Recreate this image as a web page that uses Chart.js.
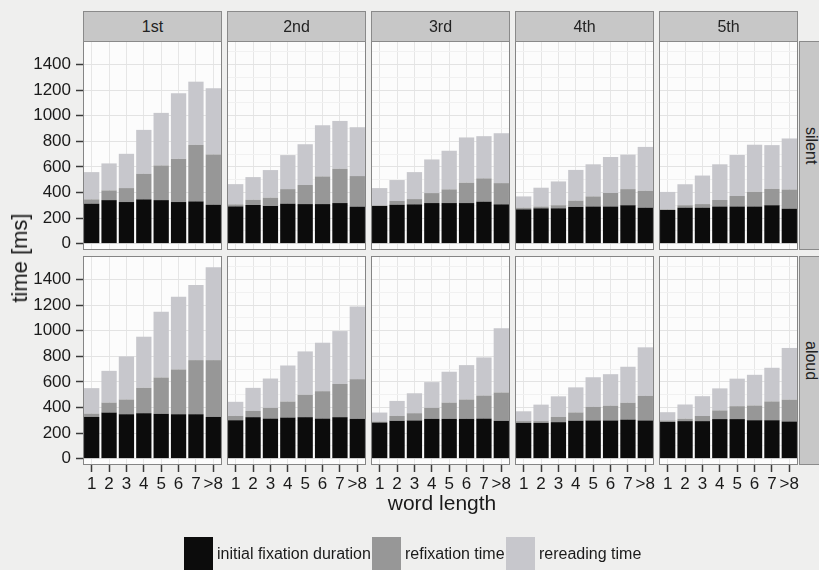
<!DOCTYPE html>
<html><head><meta charset="utf-8">
<script src="https://cdn.jsdelivr.net/npm/chart.js@4/dist/chart.umd.min.js"></script>
<style>
html,body{margin:0;padding:0}
body{width:819px;height:570px;background:#efefee;position:relative;overflow:hidden;font-family:"Liberation Sans",Arial,sans-serif;color:#1a1a1a}
.strip{position:absolute;background:#c7c7c7;border:1px solid #8a8a8a;box-sizing:border-box;display:flex;align-items:center;justify-content:center;font-size:16px;color:#222}
.vstrip{writing-mode:vertical-rl}
.bg{position:absolute;background:#fcfcfc}
.frame{position:absolute;border:1px solid #858585;box-sizing:border-box;pointer-events:none}
canvas{position:absolute}
.txt{position:absolute;white-space:nowrap}
.sw{position:absolute}
</style></head><body>
<script>
// ---- data ----
const wordLengths = ["1","2","3","4","5","6","7",">8"];
const positions = ["1st","2nd","3rd","4th","5th"];
const modes = ["silent","aloud"];
const seriesNames = ["initial fixation duration","refixation time","rereading time"];
const yTickValues = [0,200,400,600,800,1000,1200,1400];

// segment heights in ms, one row per position (1st..5th)
const silentInitial = [
  [312,340,325,346,340,325,330,304],
  [291,302,294,312,309,309,317,289],
  [294,304,307,317,317,317,328,307],
  [268,276,276,287,290,290,300,281],
  [263,281,281,290,290,290,300,273]];
const silentRefixation = [
  [34,76,109,200,271,338,442,393],
  [16,41,65,114,149,216,268,239],
  [5,29,41,78,107,159,182,166],
  [13,14,24,49,79,106,126,132],
  [5,19,28,51,82,114,128,150]];
const silentRereading = [
  [213,211,268,343,411,512,494,517],
  [158,177,216,266,319,401,374,382],
  [135,164,211,263,302,354,330,390],
  [88,147,186,240,251,281,270,343],
  [136,164,223,279,321,369,342,399]];
const aloudInitial = [
  [326,360,347,355,350,347,347,326],
  [300,324,313,321,324,313,324,311],
  [282,295,298,311,311,311,313,295],
  [279,279,285,296,298,298,305,298],
  [287,293,293,309,309,300,300,290]];
const aloudRefixation = [
  [26,78,115,198,284,350,423,444],
  [34,49,84,125,175,214,260,310],
  [8,39,57,86,127,151,180,222],
  [14,14,41,65,107,116,132,193],
  [11,19,40,68,101,115,147,171]];
const aloudRereading = [
  [199,248,337,400,514,569,587,726],
  [110,180,229,282,339,379,413,569],
  [70,117,156,201,241,269,298,502],
  [77,129,161,196,231,246,281,379],
  [65,111,155,172,215,240,263,404]];

const dataByMode = {
  silent: [silentInitial, silentRefixation, silentRereading],
  aloud: [aloudInitial, aloudRefixation, aloudRereading]
};
const colors = ["#0c0c0c","#979797","#c7c7cc"];

// ---- layout ----
const FONT = "'Liberation Sans', Arial, sans-serif";
Chart.defaults.font.family = FONT;
const PX = [83,227,371,515,659], PW = 139;
const PY = [41,256], PH = 209;
const YMIN = -50, YMAX = 1584;
const AXW = 70, XAH = 32, PAD = 12, PADV = 22;

function el(cls, css, text){
  const d = document.createElement('div');
  d.className = cls;
  Object.assign(d.style, css);
  if (text !== undefined) d.textContent = text;
  document.body.appendChild(d);
  return d;
}

// panel backgrounds
modes.forEach((m,r)=>positions.forEach((p,c)=>{
  el('bg',{left:PX[c]+'px',top:PY[r]+'px',width:PW+'px',height:PH+'px'});
}));

// charts
modes.forEach((mode, r) => {
  positions.forEach((pos, c) => {
    const isLeft = c === 0, isBottom = r === 1;
    const cx = PX[c] - PAD - (isLeft ? AXW : 0);
    const cy = PY[r] - PADV;
    const cw = PAD + (isLeft ? AXW : 0) + PW + PAD;
    const ch = PADV + PH + (isBottom ? XAH : PADV);
    const canvas = document.createElement('canvas');
    canvas.width = cw; canvas.height = ch;
    canvas.style.left = cx + 'px'; canvas.style.top = cy + 'px';
    canvas.style.width = cw + 'px'; canvas.style.height = ch + 'px';
    document.body.appendChild(canvas);
    const datasets = seriesNames.map((name, s) => ({
      label: name,
      data: dataByMode[mode][s][c],
      backgroundColor: colors[s],
      borderWidth: 0,
      barPercentage: 0.88,
      categoryPercentage: 1.0
    }));
    new Chart(canvas, {
      type: 'bar',
      data: { labels: wordLengths, datasets },
      options: {
        responsive: false, animation: false, devicePixelRatio: 1,
        layout: { padding: { left: PAD, right: PAD, top: PADV, bottom: isBottom ? 0 : PADV } },
        plugins: { legend: { display: false }, tooltip: { enabled: false } },
        scales: {
          x: {
            stacked: true, offset: true,
            grid: { offset: false, color: '#e6e6e6', drawTicks: isBottom, tickLength: 7, tickColor: '#3a3a3a', tickWidth: 1.5 },
            border: { display: false },
            ticks: { display: isBottom, font: { size: 17, family: FONT }, color: '#1a1a1a', padding: 2, maxRotation: 0, autoSkip: false },
            afterFit: s => { s.height = isBottom ? XAH : 0; }
          },
          y: {
            stacked: true, min: YMIN, max: YMAX,
            grid: {
              color: ctx => (ctx.tick && ctx.tick.value % 200 === 0) ? '#e3e3e3' : '#f1f1f1',
              drawTicks: isLeft, tickLength: 7,
              tickColor: ctx => (ctx.tick && yTickValues.includes(ctx.tick.value)) ? '#3a3a3a' : 'rgba(0,0,0,0)',
              tickWidth: 1.5
            },
            border: { display: false },
            ticks: {
              display: isLeft, stepSize: 100, includeBounds: false,
              font: { size: 17, family: FONT }, color: '#1a1a1a', padding: 5,
              callback: v => yTickValues.includes(v) ? String(v) : ''
            },
            afterFit: s => { s.width = isLeft ? AXW : 0; }
          }
        }
      }
    });
  });
});

// frames
modes.forEach((m,r)=>positions.forEach((p,c)=>{
  el('frame',{left:PX[c]+'px',top:PY[r]+'px',width:PW+'px',height:PH+'px'});
}));
// strips
positions.forEach((p,c)=>{
  el('strip',{left:PX[c]+'px',top:(PY[0]-30)+'px',width:PW+'px',height:'31px'}, p);
});
modes.forEach((m,r)=>{
  el('strip vstrip',{left:'799px',top:PY[r]+'px',width:'24px',height:PH+'px'}, m);
});
// axis titles
el('txt',{left:'442px',top:'503px',transform:'translate(-50%,-50%)',fontSize:'21px'}, 'word length');
el('txt',{left:'20px',top:'258px',transform:'translate(-50%,-50%) rotate(-90deg)',fontSize:'22px'}, 'time [ms]');
// legend
const legendX = [184,372,506], legendTextX = [217,405,539];
seriesNames.forEach((name,s)=>{
  el('sw',{left:legendX[s]+'px',top:'537px',width:'29px',height:'33px',background:colors[s]});
  el('txt',{left:legendTextX[s]+'px',top:'554px',transform:'translateY(-50%)',fontSize:'16px'}, name);
});
</script>
</body></html>
